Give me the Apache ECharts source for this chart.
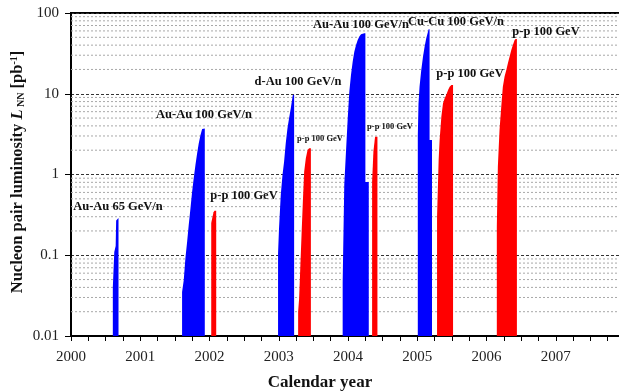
<!DOCTYPE html>
<html>
<head>
<meta charset="utf-8">
<script src="https://cdn.jsdelivr.net/npm/echarts@6/dist/echarts.min.js"></script>
<style>
    html, body { margin: 0; padding: 0; background: #fff; }
    #chart { width: 619px; height: 392px; }
</style>
</head>
<body>
<div id="chart"></div>
<script>
// integrated luminosity per run, [year, pb^-1]
var auau65_2000 = [[2000.604, 0.04], [2000.625, 0.11], [2000.645, 0.13], [2000.652, 0.27], [2000.686, 0.29]];
var auau100_2001 = [[2001.604, 0.035], [2001.628, 0.049], [2001.652, 0.092], [2001.677, 0.147], [2001.700, 0.237],
    [2001.725, 0.38], [2001.749, 0.61], [2001.772, 0.90], [2001.797, 1.31], [2001.821, 1.82], [2001.845, 2.43],
    [2001.870, 3.09], [2001.894, 3.65], [2001.932, 3.7]];
var pp_2002 = [[2002.025, 0.25], [2002.04, 0.29], [2002.058, 0.34], [2002.072, 0.356], [2002.097, 0.356]];
var dau_2003 = [[2002.990, 0.106], [2003.004, 0.216], [2003.029, 0.557], [2003.054, 0.986], [2003.077, 1.44],
    [2003.101, 2.43], [2003.126, 3.73], [2003.149, 4.97], [2003.174, 6.6], [2003.203, 9.65], [2003.222, 9.7]];
var pp_2003 = [[2003.280, 0.020], [2003.294, 0.029], [2003.309, 0.063], [2003.329, 0.178], [2003.348, 0.46],
    [2003.367, 1.08], [2003.391, 1.59], [2003.416, 2.01], [2003.439, 2.11], [2003.464, 2.11]];
var auau100_2004 = [[2003.923, 0.047], [2003.946, 0.74], [2003.971, 1.92], [2003.996, 4.97], [2004.019, 10.6],
    [2004.043, 17.1], [2004.068, 25], [2004.091, 33.2], [2004.116, 40.2], [2004.140, 46.3], [2004.164, 51],
    [2004.188, 54.5], [2004.236, 56], [2004.251, 56], [2004.251, 0.81], [2004.300, 0.81]];
var pp_2004 = [[2004.348, 0.81], [2004.367, 1.92], [2004.391, 2.94], [2004.425, 2.94]];
var cucu_2005 = [[2005.008, 3], [2005.018, 7.5], [2005.033, 12.2], [2005.058, 19.7], [2005.083, 28.8],
    [2005.106, 38.3], [2005.130, 48.6], [2005.155, 58.6], [2005.164, 62.8], [2005.178, 62.8],
    [2005.178, 2.67], [2005.213, 2.67]];
var pp_2005 = [[2005.286, 0.30], [2005.309, 1.51], [2005.323, 2.67], [2005.348, 5.2], [2005.372, 7.6],
    [2005.396, 8.8], [2005.420, 9.7], [2005.445, 11.1], [2005.468, 12.2], [2005.493, 12.8], [2005.517, 12.8]];
var pp_2006 = [[2006.149, 0.226], [2006.164, 1.25], [2006.188, 3.56], [2006.213, 6.9], [2006.236, 12.2],
    [2006.261, 16.3], [2006.286, 19.7], [2006.309, 23.8], [2006.333, 28.8], [2006.358, 34.8], [2006.381, 40.2],
    [2006.406, 46.3], [2006.420, 47.5], [2006.439, 47.5]];

var runs = [auau65_2000, auau100_2001, pp_2002, dau_2003, pp_2003, auau100_2004, pp_2004, cucu_2005, pp_2005, pp_2006];
var runSpecies = ['ion', 'ion', 'pp', 'ion', 'pp', 'ion', 'pp', 'ion', 'pp', 'pp'];
var runLabels = ['Au-Au 65 GeV/n', 'Au-Au 100 GeV/n', 'p-p 100 GeV', 'd-Au 100 GeV/n', 'p-p 100 GeV',
    'Au-Au 100 GeV/n', 'p-p 100 GeV', 'Cu-Cu 100 GeV/n', 'p-p 100 GeV', 'p-p 100 GeV'];

var yearMin = 2000, yearMax = 2008;
var lumMin = 0.01, lumMax = 100;
var minorGridValues = [0.02, 0.03, 0.04, 0.05, 0.06, 0.07, 0.08, 0.09,
    0.2, 0.3, 0.4, 0.5, 0.6, 0.7, 0.8, 0.9,
    2, 3, 4, 5, 6, 7, 8, 9,
    20, 30, 40, 50, 60, 70, 80, 90];

var serif = '"Liberation Serif", "DejaVu Serif", serif';
var colors = { ion: '#0000ff', pp: '#ff0000' };

// label placement (pixels) and size: big / small
var labelPos = [[118, 207, 12.5], [204, 115, 12.5], [244, 196, 12.5], [298, 82, 12.5], [320, 139, 8.5],
    [361, 25, 12.5], [390, 127, 8.5], [456, 22, 12.5], [470, 74, 12.5], [546, 32, 12.5]];

function runSeries(points, color) {
    return {
        type: 'custom',
        z: 5,
        silent: true,
        animation: false,
        data: points,
        renderItem: function (params, api) {
            if (params.dataIndex !== 0) return null;
            var pts = [api.coord([points[0][0], lumMin])];
            points.forEach(function (p) { pts.push(api.coord(p)); });
            pts.push(api.coord([points[points.length - 1][0], lumMin]));
            return { type: 'polygon', shape: { points: pts }, style: { fill: color } };
        }
    };
}

var series = [{
    type: 'custom', //minor grid lines
    z: 1,
    silent: true,
    animation: false,
    data: minorGridValues.map(function (v) { return [yearMin, v]; }),
    renderItem: function (params, api) {
        var a = api.coord([yearMin, api.value(1)]);
        var b = api.coord([yearMax, api.value(1)]);
        return {
            type: 'line',
            shape: { x1: a[0], y1: a[1], x2: b[0], y2: b[1] },
            style: { stroke: '#a8a8a8', lineWidth: 1, lineDash: [2, 2] }
        };
    }
}];
runs.forEach(function (r, i) {
    series.push(runSeries(r, colors[runSpecies[i]]));
});

var graphics = runLabels.map(function (t, i) {
    return {
        type: 'text',
        x: labelPos[i][0],
        y: labelPos[i][1],
        z: 100,
        style: {
            text: t, fill: '#111', fontFamily: serif, fontWeight: 'bold', fontSize: labelPos[i][2],
            align: 'center', verticalAlign: 'middle'
        }
    };
});
graphics.push({
    type: 'text', x: 320, y: 383, z: 100,
    style: { text: 'Calendar year', fill: '#111', fontFamily: serif, fontWeight: 'bold', fontSize: 17,
        align: 'center', verticalAlign: 'middle' }
});
graphics.push({
    type: 'text', x: 18, y: 172, z: 100, rotation: Math.PI / 2,
    style: {
        text: 'Nucleon pair luminosity {i|L}{sub| NN} [pb{sup|-1}]',
        fill: '#111', fontFamily: serif, fontWeight: 'bold', fontSize: 16.5,
        align: 'center', verticalAlign: 'middle',
        rich: {
            i: { fontFamily: serif, fontWeight: 'bold', fontStyle: 'italic', fontSize: 16.5, fill: '#111' },
            sub: { fontFamily: serif, fontWeight: 'bold', fontSize: 10, fill: '#111', verticalAlign: 'bottom' },
            sup: { fontFamily: serif, fontWeight: 'bold', fontSize: 10, fill: '#111', verticalAlign: 'top' }
        }
    }
});

var myChart = echarts.init(document.getElementById('chart'));
var option = {
    backgroundColor: '#fff',
    animation: false,
    grid: {
        left: 71, top: 13, width: 554, bottom: 56,
        outerBoundsMode: 'none',
        show: true, borderColor: '#000', borderWidth: 2, backgroundColor: 'transparent'
    },
    xAxis: {
        type: 'value',
        min: yearMin, max: yearMax, interval: 0.25,
        axisLine: { lineStyle: { color: '#000', width: 2 } },
        axisTick: { inside: false, length: 5, lineStyle: { color: '#000', width: 1 } },
        splitLine: { show: false },
        axisLabel: {
            margin: 14, color: '#222', fontFamily: serif, fontSize: 15,
            formatter: function (v) {
                var r = Math.round(v);
                return (Math.abs(v - r) < 1e-6 && r < yearMax) ? String(r) : '';
            }
        }
    },
    yAxis: {
        type: 'log', logBase: 10,
        min: lumMin, max: lumMax,
        axisLine: { show: true, lineStyle: { color: '#000', width: 2 } },
        axisTick: { show: true, length: 6, lineStyle: { color: '#000', width: 1 } },
        splitLine: { show: true, lineStyle: { color: '#333', width: 1, type: [3, 2] } },
        axisLabel: {
            margin: 12, color: '#222', fontFamily: serif, fontSize: 15,
            formatter: function (v) { return String(parseFloat(Number(v).toPrecision(2))); }
        }
    },
    graphic: { elements: graphics },
    series: series
};
myChart.setOption(option);
</script>
</body>
</html>
